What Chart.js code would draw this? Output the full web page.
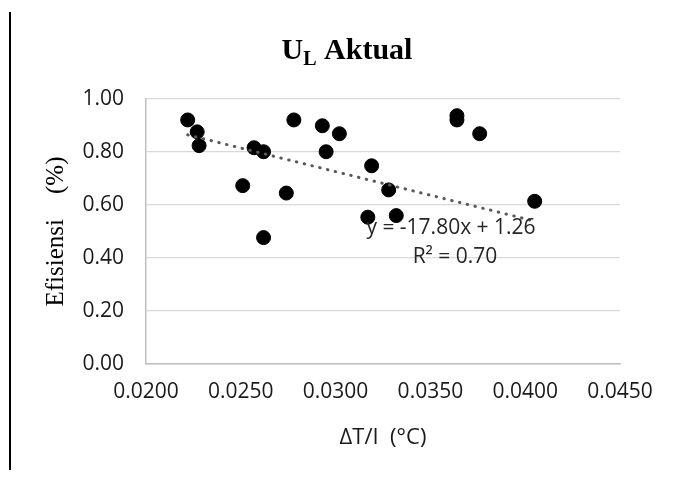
<!DOCTYPE html>
<html>
<head>
<meta charset="utf-8">
<script src="https://cdn.jsdelivr.net/npm/chart.js@4"></script>
<style>
  body { margin: 0; background: #fff; }
  #wrap { position: relative; width: 675px; height: 480px; }
  #edge { position: absolute; left: 9px; top: 12px; width: 2px; height: 458px; background: #000; }
</style>
</head>
<body>
<div id="wrap">
  <div id="edge"></div>
  <canvas id="chart" width="675" height="480"></canvas>
</div>
<script>
// values
const deltaTperI = [0.0222, 0.0227, 0.0228, 0.0251, 0.0257, 0.0262, 0.0262, 0.0274, 0.0278, 0.0293,
                    0.0295, 0.0302, 0.0317, 0.0319, 0.0328, 0.0332, 0.0364, 0.0364, 0.0376, 0.0405];
const efisiensi = [0.921, 0.876, 0.824, 0.673, 0.816, 0.801, 0.477, 0.645, 0.921, 0.899,
                   0.801, 0.869, 0.554, 0.748, 0.657, 0.560, 0.937, 0.921, 0.869, 0.614];

// trendline as printed on the chart
const trendSlope = -17.80;
const trendIntercept = 1.26;
const trendLabel = ['y = -17.80x + 1.26', 'R\u00B2 = 0.70'];

// axis ticks
const xTicks = [0.0200, 0.0250, 0.0300, 0.0350, 0.0400, 0.0450];
const yTicks = [0.00, 0.20, 0.40, 0.60, 0.80, 1.00];

const points = deltaTperI.map((x, i) => ({ x: x, y: efisiensi[i] }));
const xMin = Math.min(...deltaTperI);
const xMax = Math.max(...deltaTperI);
const trendPoints = [xMin, xMax].map(x => ({ x: x, y: trendSlope * x + trendIntercept }));

// title with subscript L, and the trendline text
const textPlugin = {
    id: 'texts',
    afterDraw(chart) {
        const ctx = chart.ctx;
        ctx.save();
        ctx.fillStyle = '#000';
        ctx.textBaseline = 'alphabetic';
        ctx.textAlign = 'left';
        const big = 'bold 30px "Liberation Serif"';
        const small = 'bold 20px "Liberation Serif"';
        ctx.font = big;
        const wU = ctx.measureText('U').width;
        const wRest = ctx.measureText(' Aktual').width;
        ctx.font = small;
        const wL = ctx.measureText('L').width;
        let x = 347 - (wU + wL + wRest) / 2;
        ctx.font = big;
        ctx.fillText('U', x, 59);
        x += wU;
        ctx.font = small;
        ctx.fillText('L', x, 65);
        x += wL;
        ctx.font = big;
        ctx.fillText(' Aktual', x, 59);

        // trendline equation
        const area = chart.chartArea;
        ctx.font = '21px "Open Sans"';
        ctx.fillStyle = '#262626';
        ctx.textAlign = 'center';
        ctx.textBaseline = 'middle';
        ctx.fillText(trendLabel[0], area.left + 305, area.top + 129);
        ctx.fillText(trendLabel[1], area.left + 309, area.top + 158);
        ctx.restore();
    }
};

new Chart(document.getElementById('chart'), {
    type: 'scatter',
    data: {
        datasets: [{
            label: 'Trendline',
            type: 'line',
            data: trendPoints,
            borderColor: '#595959',
            borderWidth: 3,
            borderDash: [0.5, 7.5],
            borderCapStyle: 'round',
            pointRadius: 0,
            fill: false,
            order: 0
        }, {
            label: 'Efisiensi',
            data: points,
            backgroundColor: '#000',
            borderColor: '#000',
            pointRadius: 7,
            pointHoverRadius: 7,
            order: 1
        }]
    },
    options: {
        responsive: false,
        animation: false,
        events: [],
        layout: { padding: { top: 99, right: 55, bottom: 0, left: 0 } },
        plugins: {
            legend: { display: false },
            tooltip: { enabled: false }
        },
        scales: {
            x: {
                type: 'linear',
                min: xTicks[0],
                max: xTicks[xTicks.length - 1],
                afterBuildTicks: s => { s.ticks = xTicks.map(v => ({ value: v })); },
                afterFit: s => { s.height = 116; },
                grid: { display: false, drawTicks: false },
                border: { display: true, color: '#bfbfbf', width: 1.5 },
                ticks: {
                    padding: 15,
                    color: '#1a1a1a',
                    font: { family: 'Open Sans', size: 21 },
                    callback: v => Number(v).toFixed(4)
                },
                title: {
                    display: true,
                    text: '\u0394T/I  (\u00B0C)',
                    color: '#1a1a1a',
                    font: { family: 'Open Sans', size: 22 },
                    padding: { top: 0, bottom: 29 }
                }
            },
            y: {
                min: yTicks[0],
                max: yTicks[yTicks.length - 1],
                afterBuildTicks: s => { s.ticks = yTicks.map(v => ({ value: v })); },
                afterFit: s => { s.width = 146; },
                grid: { color: '#d9d9d9', lineWidth: 1.3, drawTicks: false },
                border: { display: true, color: '#bfbfbf', width: 1.5 },
                ticks: {
                    padding: 22,
                    color: '#1a1a1a',
                    font: { family: 'Open Sans', size: 21 },
                    callback: v => Number(v).toFixed(2)
                },
                title: {
                    display: true,
                    text: 'Efisiensi    (%)',
                    color: '#000',
                    font: { family: 'Liberation Serif', size: 25 },
                    padding: { top: 41, bottom: 0 }
                }
            }
        }
    },
    plugins: [textPlugin]
});
</script>
</body>
</html>
